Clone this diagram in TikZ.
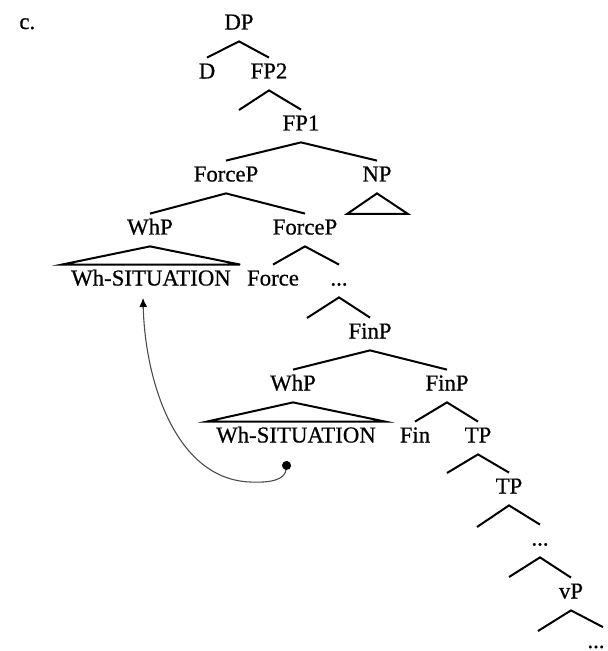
\documentclass[tikz,border=0pt]{standalone}
\usepackage{fontspec}
\setmainfont[FakeBold=0.6]{Liberation Serif}
\usetikzlibrary{arrows.meta}

\tikzset{
    lbl/.style={anchor=base, inner xsep=0pt, inner ysep=2.75pt, text height=7.5pt, text depth=3pt},
    sitlbl/.style={lbl, inner xsep=4.5pt},
    br/.style={line width=1pt},
    mv/.style={line width=0.55pt, black!70, {Circle[length=4.5pt, black]}-{Latex[length=4.5pt, width=4pt, black]}}
}

\begin{document}
\begin{tikzpicture}[x=0.5pt, y=-0.5pt, font=\fontsize{11.4}{13.7}\selectfont]
    \useasboundingbox (0,0) rectangle (608,651);

    % label of the example
    \node[anchor=base west, inner sep=0pt] (ex) at (19,29) {c.};

    % DP and its top layers
    \node[lbl] (DP) at (239,29.5) {DP};
    \node[lbl] (D) at (207,78.5) {D};
    \node[lbl] (FP2) at (269,78.5) {FP2};
    \node[lbl] (FP1) at (301,130.5) {FP1};
    \coordinate (FP2l) at (239,110);
    \draw[br] (D.north) -- (DP.south) -- (FP2.north);
    \draw[br] (FP2l) -- (FP2.south) -- (FP1.north);

    % upper ForceP and NP
    \node[lbl] (ForceP1) at (226,181.5) {ForceP};
    \node[lbl] (NP) at (377,181.5) {NP};
    \draw[br] (ForceP1.north) -- (FP1.south) -- (NP.north);
    \coordinate (NPl) at (347,214);
    \coordinate (NPr) at (408,214);
    \draw[br] (NP.south) -- (NPr) -- (NPl) -- cycle;

    % WhP and lower ForceP
    \node[lbl] (WhP1) at (150,234.5) {WhP};
    \node[lbl] (ForceP2) at (305,234.5) {ForceP};
    \draw[br] (WhP1.north) -- (ForceP1.south) -- (ForceP2.north);
    \node[sitlbl] (sit1) at (151,285.5) {Wh-SITUATION};
    \node[lbl] (Force) at (273,285.5) {Force};
    \node[lbl] (dots1) at (339,285.5) {...};
    \draw[br] (WhP1.south) -- (sit1.north east) -- (sit1.north west) -- cycle;
    \draw[br] (Force.north) -- (ForceP2.south) -- (dots1.north);

    % FinP layer
    \node[lbl] (FinP1) at (370,338.5) {FinP};
    \coordinate (dots1l) at (307,318);
    \draw[br] (dots1l) -- (dots1.south) -- (FinP1.north);
    \node[lbl] (WhP2) at (293,390.5) {WhP};
    \node[lbl] (FinP2) at (447,390.5) {FinP};
    \draw[br] (WhP2.north) -- (FinP1.south) -- (FinP2.north);
    \node[sitlbl] (sit2) at (296,442.5) {Wh-SITUATION};
    \node[lbl] (Fin) at (415,442.5) {Fin};
    \node[lbl] (TP1) at (478,442.5) {TP};
    \draw[br] (WhP2.south) -- (sit2.north east) -- (sit2.north west) -- cycle;
    \draw[br] (Fin.north) -- (FinP2.south) -- (TP1.north);

    % TP spine down to vP
    \node[lbl] (TP2) at (509,493.5) {TP};
    \node[lbl] (dots2) at (540,545.5) {...};
    \node[lbl] (vP) at (571,598.5) {vP};
    \node[lbl] (dots3) at (596,648) {...};
    \coordinate (TP1l) at (447,473);
    \coordinate (TP2l) at (477,527);
    \coordinate (dots2l) at (509,577);
    \coordinate (vPl) at (538,631);
    \draw[br] (TP1l) -- (TP1.south) -- (TP2.north);
    \draw[br] (TP2l) -- (TP2.south) -- (dots2.north);
    \draw[br] (dots2l) -- (dots2.south) -- (vP.north);
    \draw[br] (vPl) -- (vP.south) -- ([xshift=3.5pt]dots3.north);

    % movement of Wh-SITUATION
    \coordinate (trace) at (287,461);
    \coordinate (land) at (143,298);
    \draw[mv] (trace) .. controls (285,480) and (270,483) .. (250,482)
        .. controls (175,479) and (145,380) .. (land);
\end{tikzpicture}
\end{document}
